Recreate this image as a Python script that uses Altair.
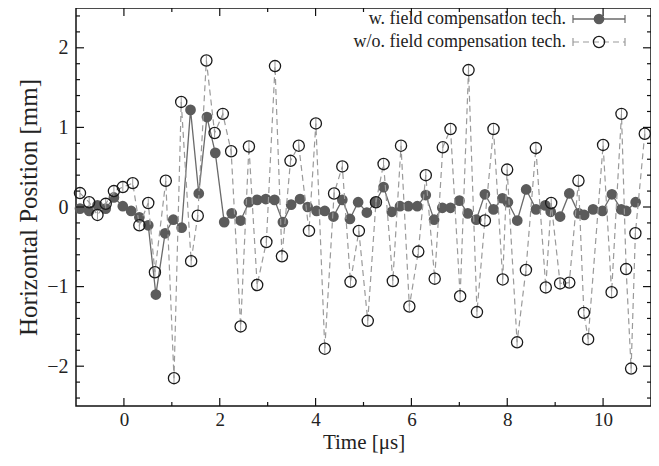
import altair as alt
import pandas as pd

# ---- data ----
t_w = [-0.917, -0.725, -0.552, -0.380, -0.209, -0.023, 0.151, 0.322, 0.508, 0.667,
       0.860, 1.031, 1.205, 1.390, 1.562, 1.733, 1.907, 2.093, 2.250, 2.436,
       2.609, 2.781, 2.961, 3.143, 3.318, 3.490, 3.676, 3.835, 4.021, 4.192,
       4.372, 4.558, 4.717, 4.888, 5.070, 5.246, 5.419, 5.591, 5.762, 5.936,
       6.122, 6.300, 6.473, 6.645, 6.816, 7.002, 7.176, 7.353, 7.533, 7.713,
       7.899, 8.014, 8.209, 8.395, 8.601, 8.793, 8.907, 9.103, 9.295, 9.490,
       9.605, 9.791, 9.986, 10.184, 10.378, 10.481, 10.680]
v_w = [-0.02, -0.05, 0.02, -0.02, 0.12, 0.01, -0.05, -0.13, -0.23, -1.10,
       -0.33, -0.16, -0.26, 1.22, 0.17, 1.13, 0.68, -0.19, -0.08, -0.17,
       0.06, 0.09, 0.10, 0.09, -0.19, 0.03, 0.10, 0.00, -0.05, -0.05,
       -0.12, 0.09, -0.15, 0.06, -0.07, 0.06, 0.25, -0.06, 0.01, 0.01,
       0.01, 0.15, -0.16, -0.01, -0.01, 0.08, -0.08, -0.16, 0.16, -0.03,
       0.11, 0.06, -0.17, 0.22, -0.03, 0.02, -0.06, -0.12, 0.17, -0.08,
       -0.10, -0.03, -0.05, 0.16, -0.03, -0.05, 0.06]

t_wo = [-0.917, -0.725, -0.552, -0.380, -0.209, -0.023, 0.184, 0.322, 0.508, 0.647,
        0.874, 1.045, 1.196, 1.403, 1.541, 1.721, 1.893, 2.064, 2.238, 2.436,
        2.609, 2.781, 2.973, 3.153, 3.298, 3.477, 3.649, 3.862, 4.006, 4.192,
        4.386, 4.558, 4.729, 4.903, 5.089, 5.260, 5.419, 5.612, 5.783, 5.957,
        6.143, 6.300, 6.486, 6.655, 6.816, 7.017, 7.192, 7.368, 7.533, 7.713,
        7.905, 7.998, 8.205, 8.390, 8.597, 8.804, 8.917, 9.103, 9.295, 9.486,
        9.599, 9.688, 10.000, 10.178, 10.384, 10.481, 10.585, 10.674, 10.870]
v_wo = [0.175, 0.06, -0.10, 0.04, 0.20, 0.25, 0.30, -0.23, 0.05, -0.82,
        0.33, -2.15, 1.32, -0.68, -0.11, 1.84, 0.93, 1.17, 0.70, -1.50,
        0.76, -0.98, -0.44, 1.77, -0.62, 0.58, 0.77, -0.30, 1.05, -1.78,
        0.17, 0.51, -0.94, -0.30, -1.43, 0.06, 0.54, -0.93, 0.77, -1.25,
        -0.56, 0.40, -0.90, 0.75, 0.98, -1.12, 1.72, -1.32, -0.17, 0.98,
        -0.91, 0.47, -1.70, -0.79, 0.74, -1.01, 0.05, -0.96, -0.95, 0.33,
        -1.33, -1.66, 0.78, -1.07, 1.17, -0.78, -2.03, -0.33, 0.92]

err_w = 0.05
err_wo = 0.06

x_major = [0, 2, 4, 6, 8, 10]
x_minor = [1, 3, 5, 7, 9]
y_major = [-2, -1, 0, 1, 2]
y_minor = [-2.4, -2.2, -1.8, -1.6, -1.4, -1.2, -0.8, -0.6, -0.4, -0.2,
           0.2, 0.4, 0.6, 0.8, 1.2, 1.4, 1.6, 1.8, 2.2, 2.4]

legend_labels = ["w. field compensation tech.", "w/o. field compensation tech."]

W, H = 575, 398
FONT = "Liberation Serif"

xs = alt.Scale(domain=[-1, 11], nice=False, zero=False)
ys = alt.Scale(domain=[-2.5, 2.5], nice=False, zero=False)

x_axis = alt.Axis(values=x_major, ticks=False, domain=False, grid=False,
                  labelFont=FONT, labelFontSize=19, labelColor="#222",
                  labelPadding=4, titleFont=FONT, titleFontSize=21,
                  titleFontWeight="normal", titleColor="#222", titlePadding=2)
y_axis = alt.Axis(values=y_major, ticks=False, domain=False, grid=False,
                  labelFont=FONT, labelFontSize=20, labelColor="#222",
                  labelPadding=8, titleFont=FONT, titleFontSize=25,
                  titleFontWeight="normal", titleColor="#222", titlePadding=5)
XT = "Time [μs]"
YT = "Horizontal Position [mm]"


def X(field):
    return alt.X(field, scale=xs, axis=x_axis, title=XT)


def Y(field):
    return alt.Y(field, scale=ys, axis=y_axis, title=YT)


dw = pd.DataFrame({"t": t_w, "v": v_w})
dw["lo"] = dw["v"] - err_w
dw["hi"] = dw["v"] + err_w
dwo = pd.DataFrame({"t": t_wo, "v": v_wo})
dwo["lo"] = dwo["v"] - err_wo
dwo["hi"] = dwo["v"] + err_wo

# w series
line_w = alt.Chart(dw).mark_line(color="#6a6a6a", strokeWidth=1.3).encode(x=X("t:Q"), y=Y("v:Q"))
err_w_m = alt.Chart(dw).mark_rule(color="#777", strokeWidth=1).encode(
    x=X("t:Q"), y=Y("lo:Q"), y2="hi:Q")
pts_w = alt.Chart(dw).mark_circle(size=115, color="#5b5b5b", opacity=1).encode(x=X("t:Q"), y=Y("v:Q"))

# w/o series
line_wo = alt.Chart(dwo).mark_line(color="#9a9a9a", strokeWidth=1.2, strokeDash=[6, 4]).encode(
    x=X("t:Q"), y=Y("v:Q"))
err_wo_m = alt.Chart(dwo).mark_rule(color="#9a9a9a", strokeWidth=1).encode(
    x=X("t:Q"), y=Y("lo:Q"), y2="hi:Q")
pts_wo = alt.Chart(dwo).mark_point(shape="circle", size=125, filled=False,
                                   color="#1a1a1a", strokeWidth=1.3, opacity=1).encode(
    x=X("t:Q"), y=Y("v:Q"))


# inward ticks (gnuplot style) on all four sides
def xticks(vals, length):
    d = pd.DataFrame({"t": vals})
    bot = alt.Chart(d).mark_rule(color="#111", strokeWidth=1.2).encode(
        x=X("t:Q"), y=alt.value(H), y2=alt.value(H - length))
    top = alt.Chart(d).mark_rule(color="#111", strokeWidth=1.2).encode(
        x=X("t:Q"), y=alt.value(0), y2=alt.value(length))
    return [bot, top]


def yticks(vals, length):
    d = pd.DataFrame({"v": vals})
    left = alt.Chart(d).mark_rule(color="#111", strokeWidth=1.2).encode(
        y=Y("v:Q"), x=alt.value(0), x2=alt.value(length))
    right = alt.Chart(d).mark_rule(color="#111", strokeWidth=1.2).encode(
        y=Y("v:Q"), x=alt.value(W), x2=alt.value(W - length))
    return [left, right]


ticks = xticks(x_major, 8) + xticks(x_minor, 4) + yticks(y_major, 8) + yticks(y_minor, 4)

# custom legend (text right-aligned, sample on the right)
LX_TEXT, LX0, LX1, LXM = 490, 497, 549, 523
LY = [11, 34]
l1 = pd.DataFrame({"label": [legend_labels[0]]})
l2 = pd.DataFrame({"label": [legend_labels[1]]})
leg = []
for df, ly in ((l1, LY[0]), (l2, LY[1])):
    leg.append(alt.Chart(df).mark_text(align="right", baseline="middle", font=FONT,
                                       fontSize=18, color="#222").encode(
        text="label:N", x=alt.value(LX_TEXT), y=alt.value(ly)))
leg.append(alt.Chart(l1).mark_rule(color="#6a6a6a", strokeWidth=1.3).encode(
    x=alt.value(LX0), x2=alt.value(LX1), y=alt.value(LY[0])))
leg.append(alt.Chart(l2).mark_rule(color="#9a9a9a", strokeWidth=1.2, strokeDash=[6, 4]).encode(
    x=alt.value(LX0), x2=alt.value(LX1), y=alt.value(LY[1])))
for df, ly, col in ((l1, LY[0], "#6a6a6a"), (l2, LY[1], "#9a9a9a")):
    for lx in (LX0, LX1):
        leg.append(alt.Chart(df).mark_rule(color=col, strokeWidth=1.2).encode(
            x=alt.value(lx), y=alt.value(ly - 4), y2=alt.value(ly + 4)))
leg.append(alt.Chart(l1).mark_circle(size=115, color="#5b5b5b", opacity=1).encode(
    x=alt.value(LXM), y=alt.value(LY[0])))
leg.append(alt.Chart(l2).mark_point(shape="circle", size=125, filled=False,
                                    color="#1a1a1a", strokeWidth=1.3, opacity=1).encode(
    x=alt.value(LXM), y=alt.value(LY[1])))

chart = alt.layer(
    line_w, err_w_m, pts_w, line_wo, err_wo_m, pts_wo, *ticks, *leg
).properties(
    width=W, height=H,
    autosize=alt.AutoSizeParams(type="none"),
    padding={"left": 68, "top": 0, "right": 0, "bottom": 48},
    background="white",
).configure_view(stroke="#111", strokeWidth=1.5)

chart.save("out.html", embed_options={"renderer": "svg", "actions": False})
